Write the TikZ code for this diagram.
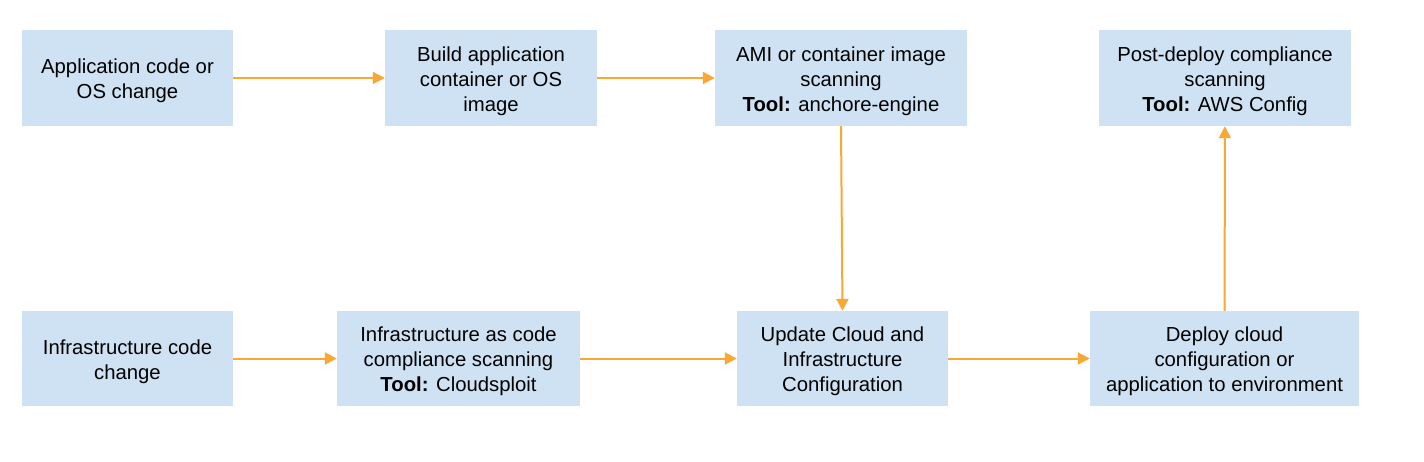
\documentclass[tikz,border=0pt]{standalone}
\usepackage{fontspec}
\setmainfont{Liberation Sans}
\usetikzlibrary{arrows.meta}
\definecolor{boxfill}{HTML}{CFE2F3}
\definecolor{arrowc}{HTML}{F9A834}
\begin{document}
\begin{tikzpicture}[x=1pt,y=-1pt,
  stepbox/.style={fill=boxfill,draw=none,inner sep=0pt},
  txt/.style={align=center,inner sep=0pt,yshift=-3pt,
    font=\fontsize{20.3}{25}\selectfont},
  flow/.style={draw=arrowc,line width=2pt,-{Triangle[length=12pt,width=12pt]}}]
\useasboundingbox (0,0) rectangle (1424,462);
\node[stepbox,minimum width=211pt,minimum height=96pt,label={[txt]center:{Application code or\\OS change}}] (a) at (127.5,78) {};
\node[stepbox,minimum width=212pt,minimum height=96pt,label={[txt]center:{Build application\\container or OS\\image}}] (b) at (491,78) {};
\node[stepbox,minimum width=252pt,minimum height=96pt,label={[txt]center:{AMI or container image\\scanning\\\textbf{Tool:} anchore-engine}}] (c) at (841,78) {};
\node[stepbox,minimum width=252pt,minimum height=96pt,label={[txt]center:{Post-deploy compliance\\scanning\\\textbf{Tool:} AWS Config}}] (d) at (1225,78) {};
\node[stepbox,minimum width=211pt,minimum height=95pt,label={[txt]center:{Infrastructure code\\change}}] (e) at (127.5,358.5) {};
\node[stepbox,minimum width=243pt,minimum height=95pt,label={[txt]center:{Infrastructure as code\\compliance scanning\\\textbf{Tool:} Cloudsploit}}] (f) at (458.5,358.5) {};
\node[stepbox,minimum width=211pt,minimum height=95pt,label={[txt]center:{Update Cloud and\\Infrastructure\\Configuration}}] (g) at (842.5,358.5) {};
\node[stepbox,minimum width=269pt,minimum height=95pt,label={[txt]center:{Deploy cloud\\configuration or\\application to environment}}] (h) at (1224.5,358.5) {};
\draw[flow] (a) -- (b);
\draw[flow] (b) -- (c);
\draw[flow] (c.south) -- (g.north);
\draw[flow] (e) -- (f);
\draw[flow] (f) -- (g);
\draw[flow] (g) -- (h);
\draw[flow] (h) -- (d);
\end{tikzpicture}
\end{document}
